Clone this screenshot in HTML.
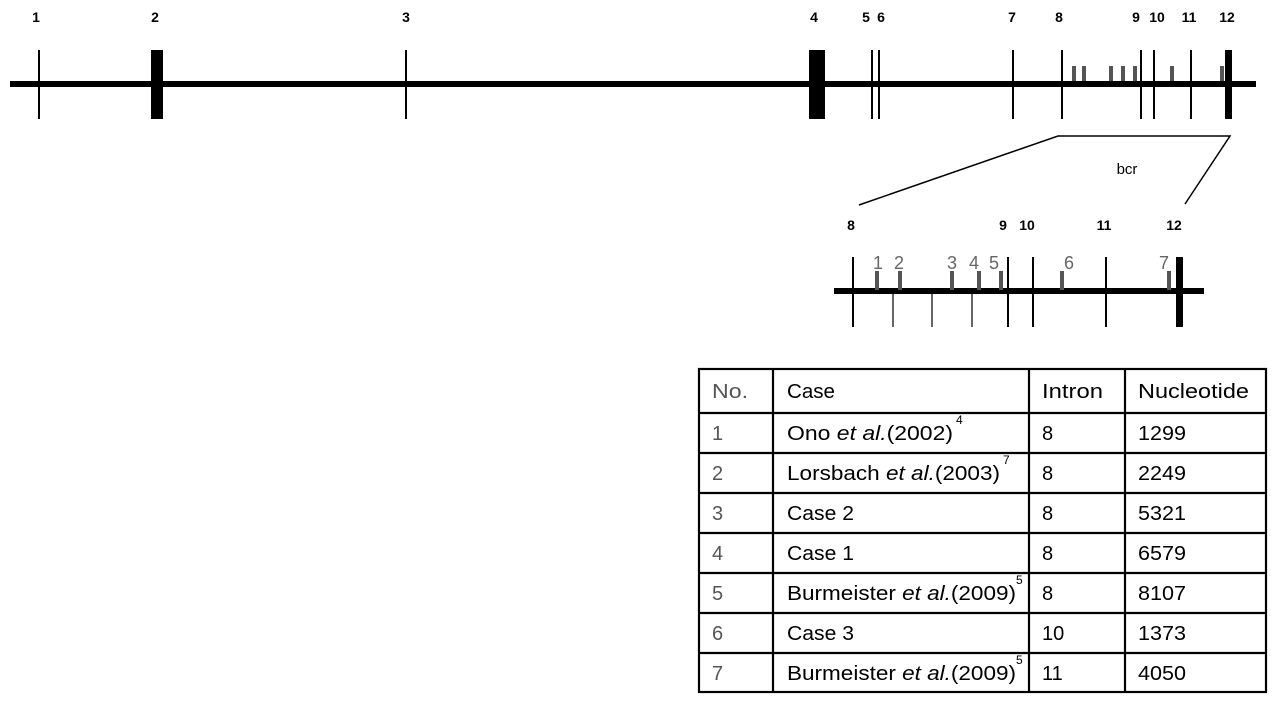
<!DOCTYPE html>
<html><head><meta charset="utf-8"><style>
html,body{margin:0;padding:0;background:#fff;width:1280px;height:701px;overflow:hidden}
svg{display:block}
.lb{font-family:"Liberation Sans",Arial,sans-serif;font-weight:bold;font-size:14px;fill:#000}
.gn{font-family:"Liberation Sans",Arial,sans-serif;font-size:18px;fill:#666}
.t{font-family:"Liberation Sans","Noto Sans CJK KR",sans-serif;font-size:20px;fill:#000}
.s{font-size:12px}
.g{fill:#555}
</style></head><body>
<svg width="1280" height="701" viewBox="0 0 1280 701">
<rect x="10" y="81" width="1246" height="6" fill="#000"/>
<g stroke="#000" stroke-width="2">
<line x1="39" y1="50" x2="39" y2="119"/>
<line x1="406" y1="50" x2="406" y2="119"/>
<line x1="872" y1="50" x2="872" y2="119"/>
<line x1="879" y1="50" x2="879" y2="119"/>
<line x1="1013" y1="50" x2="1013" y2="119"/>
<line x1="1062" y1="50" x2="1062" y2="119"/>
<line x1="1141" y1="50" x2="1141" y2="119"/>
<line x1="1154" y1="50" x2="1154" y2="119"/>
<line x1="1191" y1="50" x2="1191" y2="119"/>
</g>
<rect x="151" y="50" width="12" height="69" fill="#000"/>
<rect x="809" y="50" width="16" height="69" fill="#000"/>
<rect x="1225" y="50" width="7" height="69" fill="#000"/>
<g class="g">
<rect x="1072" y="66" width="4" height="15"/>
<rect x="1082" y="66" width="4" height="15"/>
<rect x="1109" y="66" width="4" height="15"/>
<rect x="1121" y="66" width="4" height="15"/>
<rect x="1133" y="66" width="4" height="15"/>
<rect x="1170" y="66" width="4" height="15"/>
<rect x="1220" y="66" width="4" height="15"/>
</g>
<g class="lb" text-anchor="middle">
<text x="36" y="22">1</text><text x="155" y="22">2</text><text x="406" y="22">3</text>
<text x="814" y="22">4</text><text x="866" y="22">5</text><text x="881" y="22">6</text>
<text x="1012" y="22">7</text><text x="1059" y="22">8</text><text x="1136" y="22">9</text>
<text x="1157" y="22">10</text><text x="1189" y="22">11</text><text x="1227" y="22">12</text>
</g>
<g stroke="#000" stroke-width="1.5" fill="none">
<polyline points="859,205 1058,136 1230,136 1185,204"/>
</g>
<text x="1127" y="174" class="t" style="font-size:15px" text-anchor="middle">bcr</text>
<rect x="834" y="288" width="370" height="6" fill="#000"/>
<g stroke="#000" stroke-width="2">
<line x1="853" y1="257" x2="853" y2="327"/>
<line x1="1008" y1="257" x2="1008" y2="327"/>
<line x1="1033" y1="257" x2="1033" y2="327"/>
<line x1="1106" y1="257" x2="1106" y2="327"/>
</g>
<g stroke="#000" stroke-width="1.2">
<line x1="893" y1="291" x2="893" y2="327"/>
<line x1="932" y1="291" x2="932" y2="327"/>
<line x1="972" y1="291" x2="972" y2="327"/>
</g>
<rect x="1176" y="257" width="7" height="70" fill="#000"/>
<g class="g">
<rect x="875" y="271" width="4" height="19"/>
<rect x="898" y="271" width="4" height="19"/>
<rect x="950" y="271" width="4" height="19"/>
<rect x="977" y="271" width="4" height="19"/>
<rect x="999" y="271" width="4" height="19"/>
<rect x="1060" y="271" width="4" height="19"/>
<rect x="1167" y="271" width="4" height="19"/>
</g>
<g class="gn" text-anchor="middle">
<text x="878" y="269">1</text><text x="899" y="269">2</text><text x="952" y="269">3</text>
<text x="974" y="269">4</text><text x="994" y="269">5</text><text x="1069" y="269">6</text>
<text x="1164" y="269">7</text>
</g>
<g class="lb" text-anchor="middle">
<text x="851" y="230">8</text><text x="1003" y="230">9</text><text x="1027" y="230">10</text>
<text x="1104" y="230">11</text><text x="1174" y="230">12</text>
</g>
<g stroke="#000" stroke-width="2.2" fill="none">
<rect x="699" y="369" width="567" height="323"/>
<line x1="773" y1="369" x2="773" y2="692"/>
<line x1="1029" y1="369" x2="1029" y2="692"/>
<line x1="1125" y1="369" x2="1125" y2="692"/>
<line x1="699" y1="413" x2="1266" y2="413"/>
<line x1="699" y1="453" x2="1266" y2="453"/>
<line x1="699" y1="493" x2="1266" y2="493"/>
<line x1="699" y1="533" x2="1266" y2="533"/>
<line x1="699" y1="573" x2="1266" y2="573"/>
<line x1="699" y1="613" x2="1266" y2="613"/>
<line x1="699" y1="653" x2="1266" y2="653"/>
</g>
<g class="t">
<text x="712" y="398" fill="#555" textLength="36" lengthAdjust="spacingAndGlyphs">No.</text><text x="787" y="398" textLength="48" lengthAdjust="spacingAndGlyphs">Case</text><text x="1042" y="398" textLength="61" lengthAdjust="spacingAndGlyphs">Intron</text><text x="1138" y="398" textLength="111" lengthAdjust="spacingAndGlyphs">Nucleotide</text>
<text x="712" y="440" fill="#555">1</text><text x="787" y="440" textLength="166" lengthAdjust="spacingAndGlyphs">Ono <tspan font-style="italic">et al.</tspan>(2002)</text><text x="956" y="424" class="s">4</text><text x="1042" y="440">8</text><text x="1138" y="440" textLength="48" lengthAdjust="spacingAndGlyphs">1299</text>
<text x="712" y="480" fill="#555">2</text><text x="787" y="480" textLength="213" lengthAdjust="spacingAndGlyphs">Lorsbach <tspan font-style="italic">et al.</tspan>(2003)</text><text x="1003" y="464" class="s">7</text><text x="1042" y="480">8</text><text x="1138" y="480" textLength="48" lengthAdjust="spacingAndGlyphs">2249</text>
<text x="712" y="520" fill="#555">3</text><text x="787" y="520" textLength="67" lengthAdjust="spacingAndGlyphs">Case 2</text><text x="1042" y="520">8</text><text x="1138" y="520" textLength="48" lengthAdjust="spacingAndGlyphs">5321</text>
<text x="712" y="560" fill="#555">4</text><text x="787" y="560" textLength="67" lengthAdjust="spacingAndGlyphs">Case 1</text><text x="1042" y="560">8</text><text x="1138" y="560" textLength="48" lengthAdjust="spacingAndGlyphs">6579</text>
<text x="712" y="600" fill="#555">5</text><text x="787" y="600" textLength="229" lengthAdjust="spacingAndGlyphs">Burmeister <tspan font-style="italic">et al.</tspan>(2009)</text><text x="1016" y="584" class="s">5</text><text x="1042" y="600">8</text><text x="1138" y="600" textLength="48" lengthAdjust="spacingAndGlyphs">8107</text>
<text x="712" y="640" fill="#555">6</text><text x="787" y="640" textLength="67" lengthAdjust="spacingAndGlyphs">Case 3</text><text x="1042" y="640">10</text><text x="1138" y="640" textLength="48" lengthAdjust="spacingAndGlyphs">1373</text>
<text x="712" y="680" fill="#555">7</text><text x="787" y="680" textLength="229" lengthAdjust="spacingAndGlyphs">Burmeister <tspan font-style="italic">et al.</tspan>(2009)</text><text x="1016" y="664" class="s">5</text><text x="1042" y="680">11</text><text x="1138" y="680" textLength="48" lengthAdjust="spacingAndGlyphs">4050</text>
</g>
</svg>
</body></html>
